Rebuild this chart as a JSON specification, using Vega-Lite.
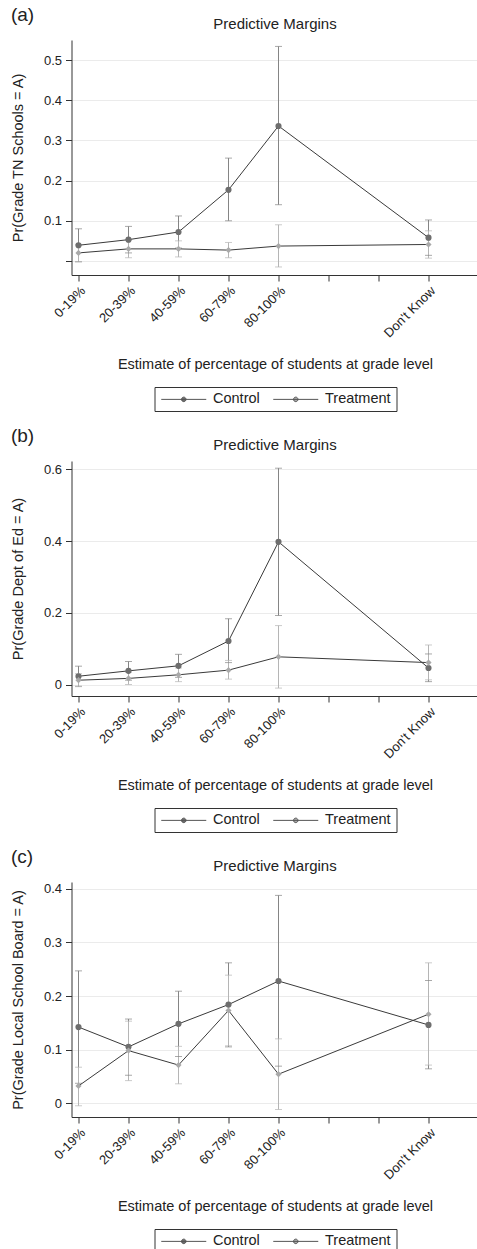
{
  "$schema": "https://vega.github.io/schema/vega-lite/v6.json",
  "padding": {"left": 10.5, "top": 6, "right": 0, "bottom": 0},
  "background": "white",
  "spacing": 15,
  "config": {
    "font": "Liberation Sans",
    "view": {"stroke": null},
    "axis": {"labelFont": "Liberation Sans", "labelFontSize": 13, "labelColor": "#222", "titleFont": "Liberation Sans", "titleFontSize": 14.5, "titleFontWeight": "normal", "titleColor": "#222", "domainColor": "#333", "tickColor": "#333", "gridColor": "#ebebeb", "gridWidth": 1, "labelOverlap": false},
    "title": {"font": "Liberation Sans", "fontSize": 15, "fontWeight": "normal", "color": "#222"},
    "legend": {"orient": "bottom", "direction": "horizontal", "strokeColor": "#333", "padding": 5, "labelFont": "Liberation Sans", "labelFontSize": 14.5, "labelColor": "#222", "symbolSize": 100, "symbolOffset": 17, "labelOffset": 22, "columnPadding": 10, "symbolStrokeColor": "#555", "symbolStrokeWidth": 1, "offset": 15, "layout": {"bottom": {"anchor": "middle"}}}
  },
  "datasets": {
    "d": [
      {"p": "a", "g": "Control", "pos": 1, "est": 0.039, "lo": -0.002, "hi": 0.080},
      {"p": "a", "g": "Control", "pos": 2, "est": 0.053, "lo": 0.020, "hi": 0.086},
      {"p": "a", "g": "Control", "pos": 3, "est": 0.072, "lo": 0.032, "hi": 0.112},
      {"p": "a", "g": "Control", "pos": 4, "est": 0.177, "lo": 0.100, "hi": 0.256},
      {"p": "a", "g": "Control", "pos": 5, "est": 0.336, "lo": 0.140, "hi": 0.534},
      {"p": "a", "g": "Control", "pos": 8, "est": 0.058, "lo": 0.014, "hi": 0.102},
      {"p": "a", "g": "Treatment", "pos": 1, "est": 0.020, "lo": -0.002, "hi": 0.040},
      {"p": "a", "g": "Treatment", "pos": 2, "est": 0.030, "lo": 0.008, "hi": 0.052},
      {"p": "a", "g": "Treatment", "pos": 3, "est": 0.030, "lo": 0.010, "hi": 0.050},
      {"p": "a", "g": "Treatment", "pos": 4, "est": 0.027, "lo": 0.008, "hi": 0.046},
      {"p": "a", "g": "Treatment", "pos": 5, "est": 0.037, "lo": -0.015, "hi": 0.090},
      {"p": "a", "g": "Treatment", "pos": 8, "est": 0.041, "lo": 0.007, "hi": 0.075},
      {"p": "b", "g": "Control", "pos": 1, "est": 0.024, "lo": -0.004, "hi": 0.052},
      {"p": "b", "g": "Control", "pos": 2, "est": 0.039, "lo": 0.013, "hi": 0.065},
      {"p": "b", "g": "Control", "pos": 3, "est": 0.053, "lo": 0.021, "hi": 0.085},
      {"p": "b", "g": "Control", "pos": 4, "est": 0.122, "lo": 0.062, "hi": 0.184},
      {"p": "b", "g": "Control", "pos": 5, "est": 0.398, "lo": 0.193, "hi": 0.603},
      {"p": "b", "g": "Control", "pos": 8, "est": 0.047, "lo": 0.009, "hi": 0.086},
      {"p": "b", "g": "Treatment", "pos": 1, "est": 0.013, "lo": -0.005, "hi": 0.031},
      {"p": "b", "g": "Treatment", "pos": 2, "est": 0.018, "lo": 0.001, "hi": 0.035},
      {"p": "b", "g": "Treatment", "pos": 3, "est": 0.028, "lo": 0.009, "hi": 0.047},
      {"p": "b", "g": "Treatment", "pos": 4, "est": 0.041, "lo": 0.016, "hi": 0.068},
      {"p": "b", "g": "Treatment", "pos": 5, "est": 0.078, "lo": -0.009, "hi": 0.165},
      {"p": "b", "g": "Treatment", "pos": 8, "est": 0.062, "lo": 0.014, "hi": 0.111},
      {"p": "c", "g": "Control", "pos": 1, "est": 0.142, "lo": 0.037, "hi": 0.247},
      {"p": "c", "g": "Control", "pos": 2, "est": 0.105, "lo": 0.052, "hi": 0.157},
      {"p": "c", "g": "Control", "pos": 3, "est": 0.148, "lo": 0.087, "hi": 0.209},
      {"p": "c", "g": "Control", "pos": 4, "est": 0.184, "lo": 0.105, "hi": 0.262},
      {"p": "c", "g": "Control", "pos": 5, "est": 0.228, "lo": 0.069, "hi": 0.388},
      {"p": "c", "g": "Control", "pos": 8, "est": 0.146, "lo": 0.064, "hi": 0.229},
      {"p": "c", "g": "Treatment", "pos": 1, "est": 0.032, "lo": -0.005, "hi": 0.067},
      {"p": "c", "g": "Treatment", "pos": 2, "est": 0.098, "lo": 0.042, "hi": 0.153},
      {"p": "c", "g": "Treatment", "pos": 3, "est": 0.071, "lo": 0.036, "hi": 0.106},
      {"p": "c", "g": "Treatment", "pos": 4, "est": 0.173, "lo": 0.107, "hi": 0.239},
      {"p": "c", "g": "Treatment", "pos": 5, "est": 0.054, "lo": -0.012, "hi": 0.120},
      {"p": "c", "g": "Treatment", "pos": 8, "est": 0.166, "lo": 0.071, "hi": 0.262}
    ]
  },
  "resolve": {"scale": {"color": "independent"}, "legend": {"color": "independent"}},
  "vconcat": [
    {
      "title": {"text": "(a)", "anchor": "start", "frame": "bounds", "fontSize": 19, "offset": -8},
      "resolve": {"scale": {"color": "independent"}, "legend": {"color": "independent"}},
      "vconcat": [
        {
          "title": {"text": "Predictive Margins", "frame": "group", "offset": 8},
          "width": 407, "height": 235,
          "data": {"name": "d"},
          "transform": [{"filter": "datum.p === 'a'"}],
          "encoding": {
            "x": {"field": "pos", "type": "quantitative", "scale": {"domain": [0.86, 9], "nice": false, "zero": false},
              "axis": {"values": [1, 2, 3, 4, 5, 6, 7, 8], "labelExpr": "datum.value==1?'0-19%':datum.value==2?'20-39%':datum.value==3?'40-59%':datum.value==4?'60-79%':datum.value==5?'80-100%':datum.value==8?\"Don't Know\":''", "labelAngle": -45, "labelDx": 4, "labelDy": 5, "grid": false, "tickSize": 6, "labelPadding": 3, "titlePadding": 18, "title": "Estimate of percentage of students at grade level"}}
          },
          "layer": [
            {"mark": {"type": "rule", "strokeWidth": 1},
             "encoding": {
               "y": {"field": "lo", "type": "quantitative", "title": "Pr(Grade TN Schools = A)", "scale": {"domain": [-0.035, 0.55], "nice": false, "zero": false}},
               "y2": {"field": "hi"},
               "stroke": {"field": "g", "type": "nominal", "scale": {"domain": ["Control", "Treatment"], "range": ["#858585", "#b5b5b5"]}, "legend": null}}},
            {"mark": {"type": "tick", "orient": "horizontal", "size": 7, "thickness": 1},
             "encoding": {
               "y": {"field": "lo", "type": "quantitative", "title": "Pr(Grade TN Schools = A)"},
               "fill": {"field": "g", "type": "nominal", "scale": {"domain": ["Control", "Treatment"], "range": ["#858585", "#b5b5b5"]}, "legend": null}}},
            {"mark": {"type": "tick", "orient": "horizontal", "size": 7, "thickness": 1},
             "encoding": {
               "y": {"field": "hi", "type": "quantitative", "title": "Pr(Grade TN Schools = A)"},
               "fill": {"field": "g", "type": "nominal", "scale": {"domain": ["Control", "Treatment"], "range": ["#858585", "#b5b5b5"]}, "legend": null}}},
            {"mark": {"type": "line", "color": "#3a3a3a", "strokeWidth": 1},
             "encoding": {
               "y": {"field": "est", "type": "quantitative", "title": "Pr(Grade TN Schools = A)"},
               "detail": {"field": "g"}}},
            {"mark": {"type": "point", "filled": true, "opacity": 1, "size": 38},
             "encoding": {
               "y": {"field": "est", "type": "quantitative", "title": "Pr(Grade TN Schools = A)",
                 "axis": {"values": [0, 0.1, 0.2, 0.3, 0.4, 0.5], "labelExpr": "datum.value==0?'':format(datum.value,'.1f')", "grid": true, "tickSize": 6, "labelPadding": 4, "titlePadding": 17.5}},
               "shape": {"field": "g", "type": "nominal", "scale": {"domain": ["Control", "Treatment"], "range": ["circle", "diamond"]}, "legend": null},
               "color": {"field": "g", "type": "nominal", "scale": {"domain": ["Control", "Treatment"], "range": ["#6e6e6e", "#a9a9a9"]},
                 "legend": {"title": null, "symbolType": "M-4.5,0H4.5M0.45,0A0.45,0.45,0,1,1,-0.45,0A0.45,0.45,0,1,1,0.45,0Z",
                   "encode": {"symbols": {"update": {"shape": {"signal": "datum.label === 'Control' ? 'M-4.5,0H4.5M0.45,0A0.45,0.45,0,1,1,-0.45,0A0.45,0.45,0,1,1,0.45,0Z' : 'M-4.5,0H4.5M0,-0.65L0.65,0L0,0.65L-0.65,0Z'"}}}}}}}}
          ]
        }
      ]
    },
    {
      "title": {"text": "(b)", "anchor": "start", "frame": "bounds", "fontSize": 19, "offset": -8},
      "resolve": {"scale": {"color": "independent"}, "legend": {"color": "independent"}},
      "vconcat": [
        {
          "title": {"text": "Predictive Margins", "frame": "group", "offset": 8},
          "width": 407, "height": 235,
          "data": {"name": "d"},
          "transform": [{"filter": "datum.p === 'b'"}],
          "encoding": {
            "x": {"field": "pos", "type": "quantitative", "scale": {"domain": [0.86, 9], "nice": false, "zero": false},
              "axis": {"values": [1, 2, 3, 4, 5, 6, 7, 8], "labelExpr": "datum.value==1?'0-19%':datum.value==2?'20-39%':datum.value==3?'40-59%':datum.value==4?'60-79%':datum.value==5?'80-100%':datum.value==8?\"Don't Know\":''", "labelAngle": -45, "labelDx": 4, "labelDy": 5, "grid": false, "tickSize": 6, "labelPadding": 3, "titlePadding": 18, "title": "Estimate of percentage of students at grade level"}}
          },
          "layer": [
            {"mark": {"type": "rule", "strokeWidth": 1},
             "encoding": {
               "y": {"field": "lo", "type": "quantitative", "title": "Pr(Grade Dept of Ed = A)", "scale": {"domain": [-0.031, 0.623], "nice": false, "zero": false}},
               "y2": {"field": "hi"},
               "stroke": {"field": "g", "type": "nominal", "scale": {"domain": ["Control", "Treatment"], "range": ["#858585", "#b5b5b5"]}, "legend": null}}},
            {"mark": {"type": "tick", "orient": "horizontal", "size": 7, "thickness": 1},
             "encoding": {
               "y": {"field": "lo", "type": "quantitative", "title": "Pr(Grade Dept of Ed = A)"},
               "fill": {"field": "g", "type": "nominal", "scale": {"domain": ["Control", "Treatment"], "range": ["#858585", "#b5b5b5"]}, "legend": null}}},
            {"mark": {"type": "tick", "orient": "horizontal", "size": 7, "thickness": 1},
             "encoding": {
               "y": {"field": "hi", "type": "quantitative", "title": "Pr(Grade Dept of Ed = A)"},
               "fill": {"field": "g", "type": "nominal", "scale": {"domain": ["Control", "Treatment"], "range": ["#858585", "#b5b5b5"]}, "legend": null}}},
            {"mark": {"type": "line", "color": "#3a3a3a", "strokeWidth": 1},
             "encoding": {
               "y": {"field": "est", "type": "quantitative", "title": "Pr(Grade Dept of Ed = A)"},
               "detail": {"field": "g"}}},
            {"mark": {"type": "point", "filled": true, "opacity": 1, "size": 38},
             "encoding": {
               "y": {"field": "est", "type": "quantitative", "title": "Pr(Grade Dept of Ed = A)",
                 "axis": {"values": [0, 0.2, 0.4, 0.6], "labelExpr": "datum.value==0?'0':format(datum.value,'.1f')", "grid": true, "tickSize": 6, "labelPadding": 4, "titlePadding": 17.5}},
               "shape": {"field": "g", "type": "nominal", "scale": {"domain": ["Control", "Treatment"], "range": ["circle", "diamond"]}, "legend": null},
               "color": {"field": "g", "type": "nominal", "scale": {"domain": ["Control", "Treatment"], "range": ["#6e6e6e", "#a9a9a9"]},
                 "legend": {"title": null, "symbolType": "M-4.5,0H4.5M0.45,0A0.45,0.45,0,1,1,-0.45,0A0.45,0.45,0,1,1,0.45,0Z",
                   "encode": {"symbols": {"update": {"shape": {"signal": "datum.label === 'Control' ? 'M-4.5,0H4.5M0.45,0A0.45,0.45,0,1,1,-0.45,0A0.45,0.45,0,1,1,0.45,0Z' : 'M-4.5,0H4.5M0,-0.65L0.65,0L0,0.65L-0.65,0Z'"}}}}}}}}
          ]
        }
      ]
    },
    {
      "title": {"text": "(c)", "anchor": "start", "frame": "bounds", "fontSize": 19, "offset": -8},
      "resolve": {"scale": {"color": "independent"}, "legend": {"color": "independent"}},
      "vconcat": [
        {
          "title": {"text": "Predictive Margins", "frame": "group", "offset": 8},
          "width": 407, "height": 235,
          "data": {"name": "d"},
          "transform": [{"filter": "datum.p === 'c'"}],
          "encoding": {
            "x": {"field": "pos", "type": "quantitative", "scale": {"domain": [0.86, 9], "nice": false, "zero": false},
              "axis": {"values": [1, 2, 3, 4, 5, 6, 7, 8], "labelExpr": "datum.value==1?'0-19%':datum.value==2?'20-39%':datum.value==3?'40-59%':datum.value==4?'60-79%':datum.value==5?'80-100%':datum.value==8?\"Don't Know\":''", "labelAngle": -45, "labelDx": 4, "labelDy": 5, "grid": false, "tickSize": 6, "labelPadding": 3, "titlePadding": 18, "title": "Estimate of percentage of students at grade level"}}
          },
          "layer": [
            {"mark": {"type": "rule", "strokeWidth": 1},
             "encoding": {
               "y": {"field": "lo", "type": "quantitative", "title": "Pr(Grade Local School Board = A)", "scale": {"domain": [-0.026, 0.413], "nice": false, "zero": false}},
               "y2": {"field": "hi"},
               "stroke": {"field": "g", "type": "nominal", "scale": {"domain": ["Control", "Treatment"], "range": ["#858585", "#b5b5b5"]}, "legend": null}}},
            {"mark": {"type": "tick", "orient": "horizontal", "size": 7, "thickness": 1},
             "encoding": {
               "y": {"field": "lo", "type": "quantitative", "title": "Pr(Grade Local School Board = A)"},
               "fill": {"field": "g", "type": "nominal", "scale": {"domain": ["Control", "Treatment"], "range": ["#858585", "#b5b5b5"]}, "legend": null}}},
            {"mark": {"type": "tick", "orient": "horizontal", "size": 7, "thickness": 1},
             "encoding": {
               "y": {"field": "hi", "type": "quantitative", "title": "Pr(Grade Local School Board = A)"},
               "fill": {"field": "g", "type": "nominal", "scale": {"domain": ["Control", "Treatment"], "range": ["#858585", "#b5b5b5"]}, "legend": null}}},
            {"mark": {"type": "line", "color": "#3a3a3a", "strokeWidth": 1},
             "encoding": {
               "y": {"field": "est", "type": "quantitative", "title": "Pr(Grade Local School Board = A)"},
               "detail": {"field": "g"}}},
            {"mark": {"type": "point", "filled": true, "opacity": 1, "size": 38},
             "encoding": {
               "y": {"field": "est", "type": "quantitative", "title": "Pr(Grade Local School Board = A)",
                 "axis": {"values": [0, 0.1, 0.2, 0.3, 0.4], "labelExpr": "datum.value==0?'0':format(datum.value,'.1f')", "grid": true, "tickSize": 6, "labelPadding": 4, "titlePadding": 17.5}},
               "shape": {"field": "g", "type": "nominal", "scale": {"domain": ["Control", "Treatment"], "range": ["circle", "diamond"]}, "legend": null},
               "color": {"field": "g", "type": "nominal", "scale": {"domain": ["Control", "Treatment"], "range": ["#6e6e6e", "#a9a9a9"]},
                 "legend": {"title": null, "symbolType": "M-4.5,0H4.5M0.45,0A0.45,0.45,0,1,1,-0.45,0A0.45,0.45,0,1,1,0.45,0Z",
                   "encode": {"symbols": {"update": {"shape": {"signal": "datum.label === 'Control' ? 'M-4.5,0H4.5M0.45,0A0.45,0.45,0,1,1,-0.45,0A0.45,0.45,0,1,1,0.45,0Z' : 'M-4.5,0H4.5M0,-0.65L0.65,0L0,0.65L-0.65,0Z'"}}}}}}}}
          ]
        }
      ]
    }
  ]
}
